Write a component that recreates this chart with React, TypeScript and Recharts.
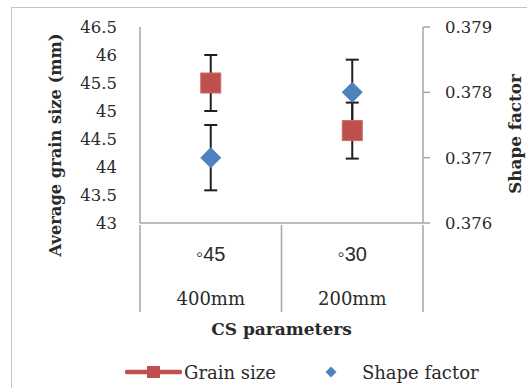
import React from 'react';
import { ComposedChart, Line, XAxis, YAxis, ErrorBar } from 'recharts';

const categories = ['\u25E645', '\u25E630'];
const subCategories = ['400mm', '200mm'];
const grainSize = [45.5, 44.65];
const grainErr = [0.5, 0.5];
const shapeFactor = [0.377, 0.378];
const shapeErr = [0.0005, 0.0005];
const leftTicks = [43, 43.5, 44, 44.5, 45, 45.5, 46, 46.5];
const rightTicks = [0.376, 0.377, 0.378, 0.379];

const data = categories.map((c, i) => ({
  cat: c,
  grain: grainSize[i],
  grainErr: grainErr[i],
  shape: shapeFactor[i],
  shapeErr: shapeErr[i],
}));

const RED = '#C0504D';
const BLUE = '#4F81BD';
const AXIS = '#a6a6a6';
const TXT = '#2a2a2a';
const SERIF = '"DejaVu Serif", serif';

const SquareDot = (p: any) => {
  const { cx, cy, index } = p;
  if (cx == null || cy == null) return <g key={'s' + index} />;
  return <rect key={'s' + index} x={cx - 10} y={cy - 10} width={20} height={20} fill={RED} stroke="#c96b68" strokeWidth={1} />;
};

const DiamondDot = (p: any) => {
  const { cx, cy, index } = p;
  if (cx == null || cy == null) return <g key={'d' + index} />;
  return <path key={'d' + index} d={`M${cx},${cy - 10.5}L${cx + 10.5},${cy}L${cx},${cy + 10.5}L${cx - 10.5},${cy}Z`} fill={BLUE} />;
};

const CategoryTick = (p: any) => {
  const { x, y, index, width, visibleTicksCount } = p;
  const n = visibleTicksCount || categories.length;
  const half = width / n / 2;
  return (
    <g>
      <line x1={x - half} y1={y} x2={x - half} y2={y + 87} stroke={AXIS} strokeWidth={1.5} />
      {index === n - 1 && <line x1={x + half} y1={y} x2={x + half} y2={y + 87} stroke={AXIS} strokeWidth={1.5} />}
      <text x={x} y={y + 36} textAnchor="middle" fontFamily='"Liberation Sans", sans-serif' fontSize={20} fill={TXT}>
        {categories[index]}
      </text>
      <text x={x} y={y + 80} textAnchor="middle" fontFamily={SERIF} fontSize={18} fill={TXT}>
        {subCategories[index]}
      </text>
    </g>
  );
};

const LeftLabel = (p: any) => {
  const vb = p.viewBox || {};
  const cx = vb.x + 55;
  const cy = vb.y + vb.height / 2 + 20;
  return (
    <text x={cx} y={cy} transform={`rotate(-90, ${cx}, ${cy})`} textAnchor="middle" dominantBaseline="central" fontFamily={SERIF} fontWeight="bold" fontSize={16.3} fill={TXT}>
      Average grain size (mm)
    </text>
  );
};

const RightLabel = (p: any) => {
  const vb = p.viewBox || {};
  const cx = vb.x + 92;
  const cy = vb.y + vb.height / 2 + 9;
  return (
    <text x={cx} y={cy} transform={`rotate(-90, ${cx}, ${cy})`} textAnchor="middle" dominantBaseline="central" fontFamily={SERIF} fontWeight="bold" fontSize={16.8} fill={TXT}>
      Shape factor
    </text>
  );
};

const BottomLabel = (p: any) => {
  const vb = p.viewBox || {};
  const cx = vb.x + vb.width / 2;
  return (
    <text x={cx} y={vb.y + 112} textAnchor="middle" fontFamily={SERIF} fontWeight="bold" fontSize={17} fill={TXT}>
      CS parameters
    </text>
  );
};

export default function App() {
  return (
    <div style={{ position: 'absolute', left: 0, top: 0, width: 527, height: 388, background: '#fff', overflow: 'hidden' }}>
      <div style={{ position: 'absolute', left: 11, top: 7, width: 516, height: 381, borderTop: '1.5px solid #c4c4c4', borderLeft: '1.5px solid #c4c4c4' }} />
      <div style={{ position: 'absolute', left: 0, top: 0 }}>
        <ComposedChart width={527} height={388} data={data} margin={{ top: 27, right: 0, left: 0, bottom: 77 }}>
          <XAxis
            dataKey="cat"
            xAxisId="x"
            scale="band"
            height={88}
            axisLine={{ stroke: AXIS, strokeWidth: 1.5 }}
            tickLine={false}
            tickSize={0}
            tick={<CategoryTick />}
            interval={0}
            label={<BottomLabel />}
          />
          <YAxis
            yAxisId="left"
            width={140}
            domain={[43, 46.5]}
            ticks={leftTicks}
            allowDataOverflow
            axisLine={{ stroke: AXIS, strokeWidth: 1.5 }}
            tickLine={false}
            tickSize={0}
            tickMargin={23}
            tick={{ fontFamily: SERIF, fontSize: 16.5, fill: TXT }}
            label={<LeftLabel />}
          />
          <YAxis
            yAxisId="right"
            orientation="right"
            width={104}
            domain={[0.376, 0.379]}
            ticks={rightTicks}
            allowDataOverflow
            axisLine={{ stroke: AXIS, strokeWidth: 1.5 }}
            tickLine={{ stroke: AXIS, strokeWidth: 1.5 }}
            tickSize={7}
            tickMargin={15}
            tick={{ fontFamily: SERIF, fontSize: 16.5, fill: TXT, textAnchor: 'start' }}
            label={<RightLabel />}
          />
          <Line
            xAxisId="x"
            yAxisId="left"
            dataKey="grain"
            name="Grain size"
            stroke="none"
            dot={SquareDot}
            activeDot={false}
            isAnimationActive={false}
          >
            <ErrorBar dataKey="grainErr" direction="y" width={6.5} stroke="#1f1f1f" strokeWidth={2} />
          </Line>
          <Line
            xAxisId="x"
            yAxisId="right"
            dataKey="shape"
            name="Shape factor"
            stroke="none"
            dot={DiamondDot}
            activeDot={false}
            isAnimationActive={false}
          >
            <ErrorBar dataKey="shapeErr" direction="y" width={6.5} stroke="#1f1f1f" strokeWidth={2} />
          </Line>
        </ComposedChart>
      </div>
      <div style={{ position: 'absolute', left: 125, top: 362, height: 20, display: 'flex', alignItems: 'center', fontFamily: SERIF, fontSize: 18, color: TXT }}>
        <svg width={57} height={20} style={{ display: 'block' }}>
          <line x1={2} y1={10} x2={55} y2={10} stroke={RED} strokeWidth={4.5} strokeLinecap="round" />
          <rect x={22} y={4} width={13} height={12} fill={RED} />
        </svg>
        <span style={{ marginLeft: 2 }}>Grain size</span>
        <svg width={12} height={12} style={{ display: 'block', marginLeft: 49 }}>
          <path d="M6,0.5L11.5,6L6,11.5L0.5,6Z" fill={BLUE} />
        </svg>
        <span style={{ marginLeft: 25 }}>Shape factor</span>
      </div>
    </div>
  );
}
